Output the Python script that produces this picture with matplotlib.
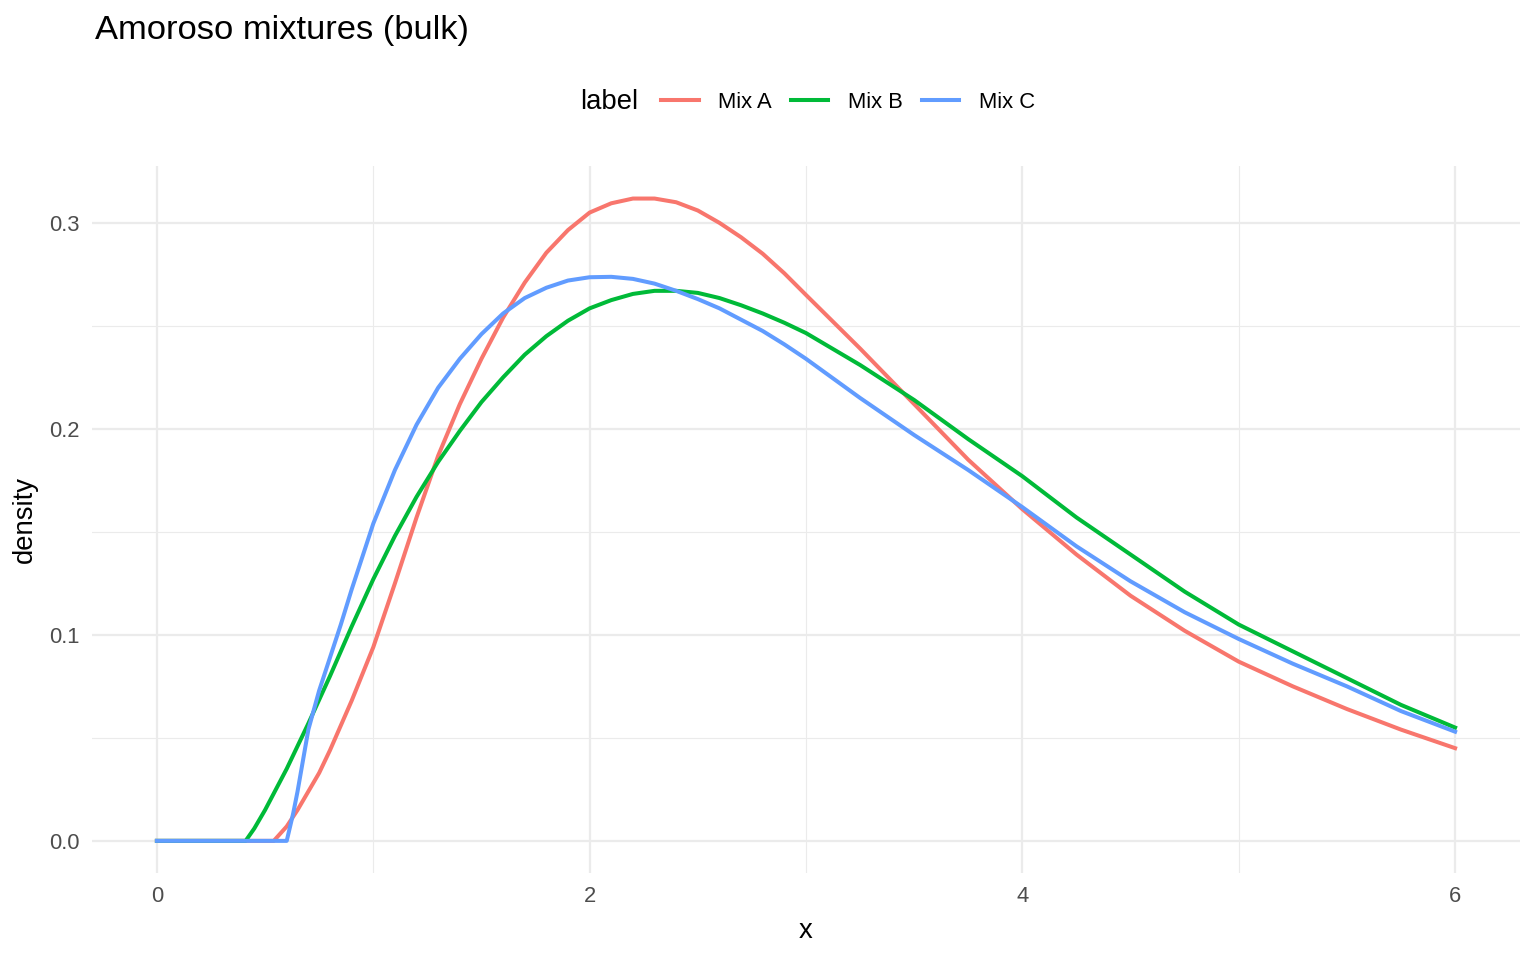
import matplotlib
matplotlib.use("Agg")
import matplotlib.pyplot as plt
from matplotlib.ticker import MultipleLocator, FormatStrFormatter

plt.rcParams['font.family'] = ['Liberation Sans', 'DejaVu Sans']

# values (each series has its own x grid)
x_a = [0.0, 0.25, 0.5, 0.54, 0.6, 0.65, 0.7, 0.75, 0.8, 0.85, 0.9, 0.95, 1.0, 1.1, 1.2,
       1.3, 1.4, 1.5, 1.6, 1.7, 1.8, 1.9, 2.0, 2.1, 2.2, 2.3, 2.4, 2.5, 2.6, 2.7, 2.8,
       2.9, 3.0, 3.25, 3.5, 3.75, 4.0, 4.25, 4.5, 4.75, 5.0, 5.25, 5.5, 5.75, 6.0]
mix_a = [0, 0, 0, 0, 0.007, 0.015, 0.024, 0.033, 0.044, 0.056, 0.068, 0.081, 0.094,
         0.125, 0.157, 0.187, 0.212, 0.234, 0.254, 0.271, 0.2855, 0.2965, 0.305, 0.3095,
         0.3118, 0.3118, 0.310, 0.306, 0.300, 0.293, 0.285, 0.2755, 0.265, 0.239, 0.212,
         0.185, 0.161, 0.139, 0.119, 0.102, 0.087, 0.075, 0.064, 0.054, 0.045]

x_b = [0.0, 0.25, 0.41, 0.45, 0.5, 0.55, 0.6, 0.65, 0.7, 0.8, 0.9, 1.0, 1.1, 1.2, 1.3,
       1.4, 1.5, 1.6, 1.7, 1.8, 1.9, 2.0, 2.1, 2.2, 2.3, 2.4, 2.5, 2.6, 2.7, 2.8, 2.9,
       3.0, 3.25, 3.5, 3.75, 4.0, 4.25, 4.5, 4.75, 5.0, 5.25, 5.5, 5.75, 6.0]
mix_b = [0, 0, 0, 0.006, 0.015, 0.025, 0.035, 0.046, 0.057, 0.080, 0.104, 0.127, 0.148,
         0.167, 0.184, 0.199, 0.213, 0.225, 0.236, 0.245, 0.2525, 0.2585, 0.2625, 0.2655,
         0.267, 0.267, 0.266, 0.2635, 0.260, 0.256, 0.2515, 0.2465, 0.231, 0.214, 0.195,
         0.177, 0.157, 0.139, 0.121, 0.105, 0.092, 0.079, 0.066, 0.055]

x_c = [0.0, 0.25, 0.5, 0.6, 0.63, 0.65, 0.7, 0.75, 0.8, 0.85, 0.9, 0.95, 1.0, 1.1, 1.2,
       1.3, 1.4, 1.5, 1.6, 1.7, 1.8, 1.9, 2.0, 2.1, 2.2, 2.3, 2.4, 2.5, 2.6, 2.7, 2.8,
       2.9, 3.0, 3.25, 3.5, 3.75, 4.0, 4.25, 4.5, 4.75, 5.0, 5.25, 5.5, 5.75, 6.0]
mix_c = [0, 0, 0, 0, 0.0134, 0.024, 0.054, 0.073, 0.089, 0.105, 0.122, 0.138, 0.154,
         0.180, 0.202, 0.220, 0.234, 0.246, 0.256, 0.2635, 0.2685, 0.272, 0.2736, 0.2738,
         0.2728, 0.2705, 0.267, 0.263, 0.2585, 0.253, 0.2475, 0.241, 0.234, 0.215, 0.197,
         0.180, 0.162, 0.143, 0.126, 0.111, 0.098, 0.086, 0.075, 0.063, 0.053]

labels = ['Mix A', 'Mix B', 'Mix C']
colors = ['#F8766D', '#00BA38', '#619CFF']

W, H = 1536, 960
fig = plt.figure(figsize=(W / 100, H / 100), dpi=100)
ax = fig.add_axes([92 / W, 1 - 873 / H, (1520 - 92) / W, (873 - 166) / H])

for xs, ys, lab, c in zip([x_a, x_b, x_c], [mix_a, mix_b, mix_c], labels, colors):
    ax.plot(xs, ys, color=c, lw=2.9, label=lab, solid_joinstyle='round')

ax.set_xlim(-0.3, 6.3)
ax.set_ylim(-0.0156, 0.3276)
ax.xaxis.set_major_locator(MultipleLocator(2))
ax.xaxis.set_minor_locator(MultipleLocator(1))
ax.yaxis.set_major_locator(MultipleLocator(0.1))
ax.yaxis.set_minor_locator(MultipleLocator(0.05))
ax.xaxis.set_major_formatter(FormatStrFormatter('%d'))
ax.yaxis.set_major_formatter(FormatStrFormatter('%.1f'))
ax.grid(which='major', color='#EBEBEB', lw=1.6)
ax.grid(which='minor', color='#EBEBEB', lw=0.8)
ax.set_axisbelow(True)
for s in ax.spines.values():
    s.set_visible(False)
ax.tick_params(which='both', length=0, labelsize=15.8, labelcolor='#4D4D4D')
ax.tick_params(axis='x', pad=9)
ax.tick_params(axis='y', pad=9)

ax.set_xlabel('x', fontsize=19.8, labelpad=8)
ax.set_ylabel('density', fontsize=19.8, labelpad=8)

fig.text(95 / W, 1 - 31 / H, 'Amoroso mixtures (bulk)', fontsize=24.8,
         ha='left', va='center')
fig.text(580 / W, 1 - 102 / H, 'label', fontsize=19.8, ha='left', va='center')
fig.legend(loc='center', bbox_to_anchor=(848 / W, 1 - 102 / H), ncol=3,
           frameon=False, fontsize=15.8, handlelength=1.7, handletextpad=0.9,
           columnspacing=0.86, borderpad=0, borderaxespad=0)

fig.savefig('out.png', dpi=100, facecolor='white')
